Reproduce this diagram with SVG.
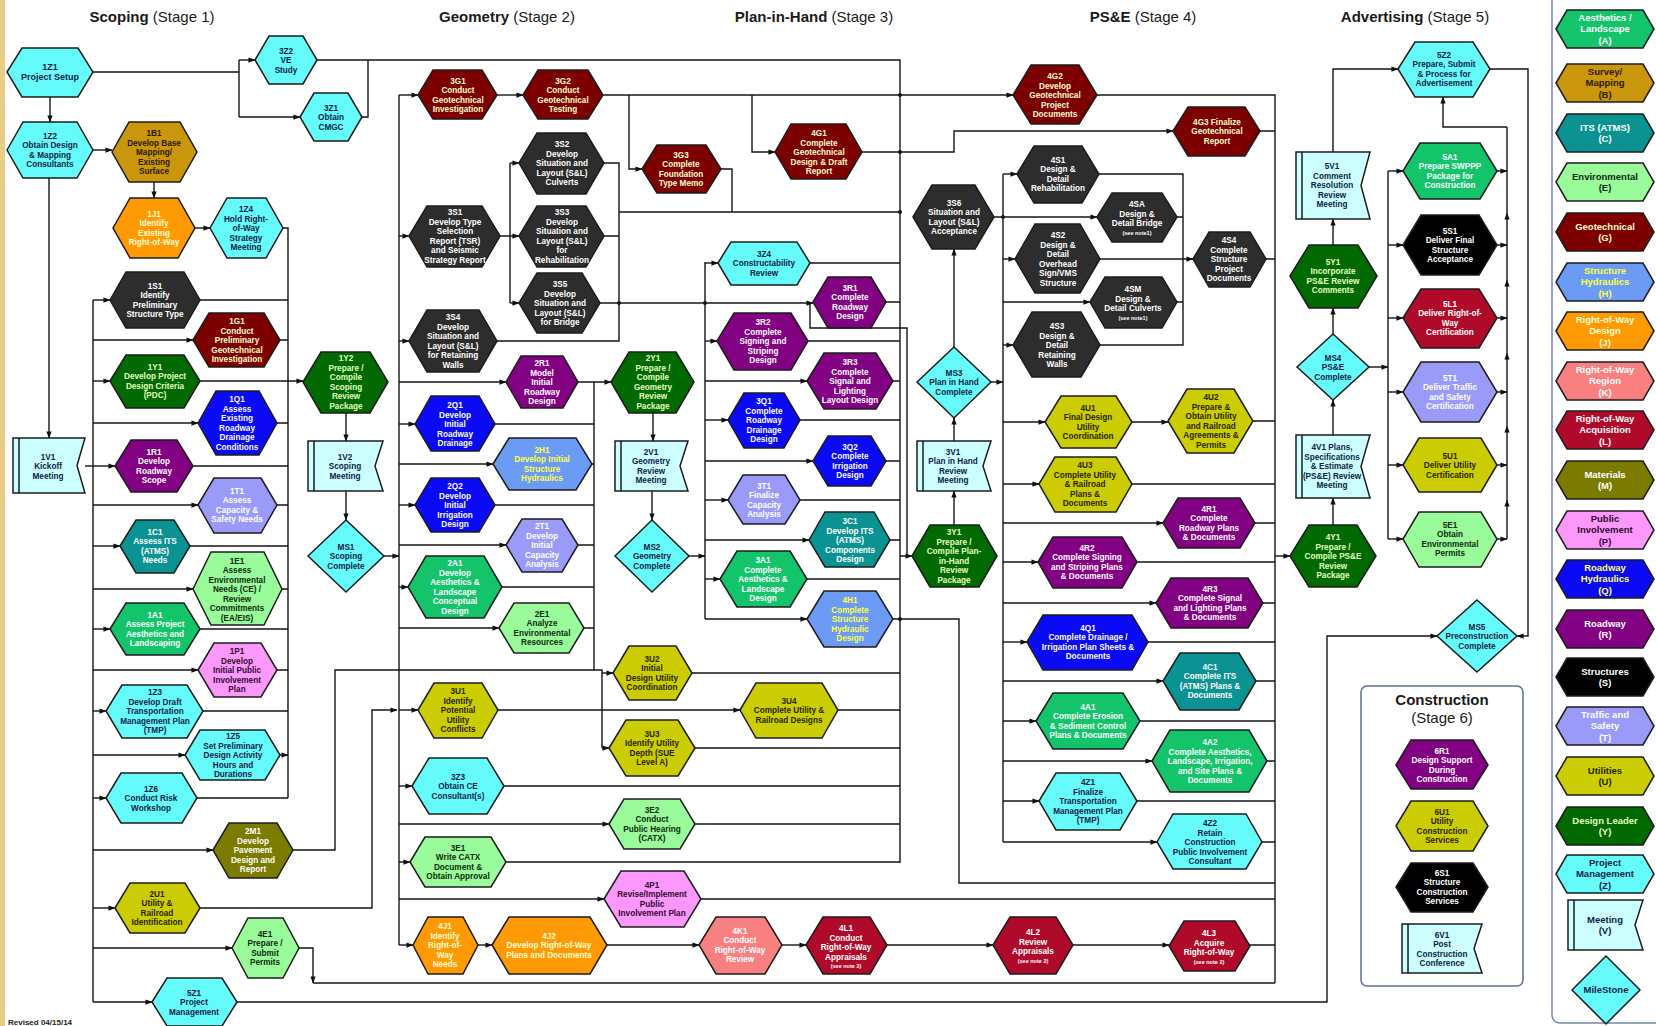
<svg xmlns="http://www.w3.org/2000/svg" width="1656" height="1026" viewBox="0 0 1656 1026">
<defs>
<marker id="ar" viewBox="0 0 8 6" refX="7.5" refY="3" markerWidth="7" markerHeight="5.5" markerUnits="userSpaceOnUse" orient="auto"><path d="M0,0 L8,3 L0,6 Z" fill="#111"/></marker>
<marker id="am" viewBox="0 0 8 6" refX="4" refY="3" markerWidth="7" markerHeight="5.5" markerUnits="userSpaceOnUse" orient="auto"><path d="M0,0 L8,3 L0,6 Z" fill="#111"/></marker>
<style>
text{font-family:"Liberation Sans",Arial,sans-serif;font-weight:bold;font-size:8.2px;text-anchor:middle}
.ttl{font-size:15px;font-weight:normal;fill:#1a1a1a}
.ttl .b{font-weight:bold}
.sm{font-size:5.5px}
.nd polygon,.nd path{stroke:#1c1c1c;stroke-width:1.5}
.c path{fill:none;stroke:#151515;stroke-width:1.4}
.c .a{marker-end:url(#ar)}
.c .m{marker-mid:url(#am)}
.c circle{fill:#151515}
.lg text{font-size:9.5px}
.A polygon{fill:#14c46a}.A text{fill:#fff}
.B polygon{fill:#c9960c}.B text{fill:#2b1800}
.C polygon{fill:#0b9292}.C text{fill:#fff}
.E polygon{fill:#99fb99}.E text{fill:#0c2a0c}
.G polygon{fill:#7d0000}.G text{fill:#ffffc8}
.H polygon{fill:#6b9bf5}.H text{fill:#ffff3c}
.J polygon{fill:#ff9a05}.J text{fill:#ffffd0}
.K polygon{fill:#f88080}.K text{fill:#fff}
.L polygon{fill:#b00a2a}.L text{fill:#fff}
.M polygon{fill:#7b7b00}.M text{fill:#fff}
.P polygon{fill:#fc98fc}.P text{fill:#2e0a2e}
.Q polygon{fill:#0a0af5}.Q text{fill:#fbfbe0}
.R polygon{fill:#820082}.R text{fill:#fff}
.S polygon{fill:#2d2d2d}.S text{fill:#fff}
.X polygon{fill:#000}.X text{fill:#fff}
.T polygon{fill:#9a9af8}.T text{fill:#fff}
.U polygon{fill:#cccc05}.U text{fill:#262600}
.Y polygon{fill:#006a00}.Y text{fill:#e6ffc0}
.Z polygon{fill:#66fbfb}.Z text{fill:#0d1b45}
.V path{fill:#ccffff}.V text{fill:#0d1b45}
.MS polygon{fill:#66fbfb}.MS text{fill:#0d1b45}
</style>
</defs>
<rect width="1656" height="1026" fill="#fff"/>
<rect x="0" y="0" width="5" height="1026" fill="#e8cd84"/>

<g id="titles">
<text class="ttl" x="152" y="22"><tspan class="b">Scoping</tspan> (Stage 1)</text>
<text class="ttl" x="507" y="22"><tspan class="b">Geometry</tspan> (Stage 2)</text>
<text class="ttl" x="814" y="22"><tspan class="b">Plan-in-Hand</tspan> (Stage 3)</text>
<text class="ttl" x="1143" y="22"><tspan class="b">PS&amp;E</tspan> (Stage 4)</text>
<text class="ttl" x="1415" y="22"><tspan class="b">Advertising</tspan> (Stage 5)</text>
<text x="8" y="1025" style="font-size:8px;text-anchor:start;fill:#222">Revised 04/15/14</text>
</g>

<g id="connectors" class="c">
<path d="M93,72 H239 M239,60 V117 M93,300 V1002 M283,228 H288 V798 M200,300 H288 M280,340 H288 M277,423 H288 M193,466 H288 M277,505 H288 M190,546 H288 M282,589 H288 M200,629 H288 M277,670 H288 M203,711 H288 M197,798 H288 M362,117 H368 V60 M317,60 H900 V863"/>
<path class="a" d="M239,60 H255"/><path class="a" d="M239,117 H300"/><path class="a" d="M50,97 V122"/><path class="a" d="M93,150 H112"/><path class="a" d="M154,182 V198"/><path class="a" d="M195,228 H210"/><path class="a" d="M49,178 V438"/><path class="a" d="M85,466 H115"/>
<path class="a" d="M93,300 H110"/><path class="a" d="M93,340 H193"/><path class="a" d="M93,381 H110"/><path class="a" d="M93,423 H198"/><path class="a" d="M93,505 H198"/><path class="a" d="M93,546 H120"/><path class="a" d="M93,589 H193"/><path class="a" d="M93,629 H110"/><path class="a" d="M93,670 H198"/><path class="a" d="M93,711 H106"/><path class="a" d="M93,755 H185"/><path class="a" d="M93,798 H106"/><path class="a" d="M93,850 H213"/><path class="a" d="M93,908 H115"/><path class="a" d="M93,948 H232"/><path class="a" d="M93,1002 H152"/>
<path class="a" d="M280,755 H288"/><path class="a" d="M200,381 H303"/><path class="a" d="M346,413 V441"/><path class="a" d="M346,491 V520"/><path class="a" d="M384,556 H399"/>

<path d="M399,95 V945 M721,169 H732 V212 M619,212 H900 M500,236 H510 M510,163 V303 M604,163 H619 V341 H497 M604,236 H619 M886,302 H900 M594,382 V670 M495,424 H594 M592,464 H594 M495,505 H594 M578,545 H594 M502,587 H594 M584,628 H594 M293,850 H335 V670 H602 V748"/>
<path class="a" d="M399,95 H418"/><path class="a" d="M399,236 H409"/><path class="a" d="M399,341 H409"/><path class="a" d="M399,382 H506"/><path class="a" d="M399,424 H415"/><path class="a" d="M399,464 H493"/><path class="a" d="M399,505 H415"/><path class="a" d="M399,545 H506"/><path class="a" d="M399,587 H408"/><path class="a" d="M399,628 H499"/><path class="a" d="M399,710 H418"/><path class="a" d="M399,786 H412"/><path class="a" d="M399,824 H609"/><path class="a" d="M399,862 H410"/><path class="a" d="M399,899 H604"/><path class="a" d="M399,945 H413"/>
<path class="a" d="M497,95 H523"/><path class="a" d="M603,95 H1013"/><path class="a" d="M629,95 V169 H642"/><path class="a" d="M752,95 V152 H775"/><path class="a" d="M862,152 H954 V131 H1173"/>
<path class="a" d="M510,163 H519"/><path class="a" d="M510,236 H519"/><path class="a" d="M510,303 H519"/><path class="a" d="M600,303 H813"/><path class="a" d="M810,303 V328 H907 V556 H912"/>
<path class="a" d="M578,382 H611"/><path class="a" d="M602,673 H613"/><path class="a" d="M602,748 H609"/><path class="a" d="M200,908 H372 V710 H397"/>
<path class="a" d="M653,413 V441"/><path class="a" d="M652,491 V520"/><path class="a" d="M689,556 H705"/>

<path d="M705,262 V619 M810,263 H900 M808,341 H900 M893,381 H900 M800,420 H900 M886,461 H900 M800,500 H900 M890,540 H900 M807,579 H900 M692,673 H900 M838,710 H900 M695,748 H900 M504,786 H900 M695,824 H900 M506,862 H900 M893,619 H959 V883 H1275 M701,899 H1275 M900,556 H907"/>
<path class="a" d="M705,263 H718"/><path class="a" d="M705,341 H717"/><path class="a" d="M705,381 H807"/><path class="a" d="M705,420 H728"/><path class="a" d="M705,461 H813"/><path class="a" d="M705,500 H728"/><path class="a" d="M705,540 H809"/><path class="a" d="M705,579 H720"/><path class="a" d="M705,619 H807"/><path class="a" d="M498,710 H740"/>
<path class="a" d="M954,525 V491"/><path class="a" d="M954,441 V418"/><path class="a" d="M954,347 V249"/><path class="a" d="M991,382 H1003"/>

<path d="M1003,174 V842 M1099,174 H1183 V345 H1100 M1177,217 H1183 M1177,302 H1183 M1097,95 H1275 V983 M1260,131 H1275 M1266,259 H1275 M1253,421 H1275 M1132,484 H1275 M1255,523 H1275 M1137,562 H1275 M1263,603 H1275 M1148,642 H1275 M1256,681 H1275 M1140,721 H1275 M1267,761 H1275 M1137,801 H1275 M1262,842 H1275 M1250,945 H1275 M313,983 H1275"/>
<path class="a" d="M994,217 H1097"/><path class="a" d="M1003,174 H1017"/><path class="a" d="M1003,259 H1015"/><path class="a" d="M1003,302 H1090"/><path class="a" d="M1003,345 H1013"/><path class="a" d="M1003,422 H1045"/><path class="a" d="M1003,484 H1039"/><path class="a" d="M1003,523 H1163"/><path class="a" d="M1003,562 H1038"/><path class="a" d="M1003,603 H1156"/><path class="a" d="M1003,642 H1027"/><path class="a" d="M1003,681 H1163"/><path class="a" d="M1003,721 H1036"/><path class="a" d="M1003,761 H1152"/><path class="a" d="M1003,801 H1039"/><path class="a" d="M1003,842 H1157"/>
<path class="a" d="M1100,259 H1193"/><path class="a" d="M1132,422 H1168"/>
<path class="a" d="M478,945 H492"/><path class="a" d="M607,945 H699"/><path class="a" d="M782,945 H806"/><path class="a" d="M887,945 H993"/><path class="a" d="M1073,945 H1169"/><path class="a" d="M299,948 H313 V983"/><path class="a" d="M1275,556 H1290"/>

<path d="M1388,171 V539"/>
<path class="m" d="M1507,539 V503 V429 V356 V283 V216 V127"/>
<path class="a" d="M1333,525 V498"/><path class="a" d="M1333,435 V400"/><path class="a" d="M1333,334 V308"/><path class="a" d="M1333,245 V219"/><path class="a" d="M1333,152 V69 H1398"/><path class="a" d="M1369,367 H1388"/>
<path class="a" d="M1388,171 H1403"/><path class="a" d="M1388,245 H1403"/><path class="a" d="M1388,318 H1403"/><path class="a" d="M1388,392 H1403"/><path class="a" d="M1388,465 H1403"/><path class="a" d="M1388,539 H1403"/>
<path class="a" d="M1497,171 H1507"/><path class="a" d="M1497,245 H1507"/><path class="a" d="M1497,318 H1507"/><path class="a" d="M1497,392 H1507"/><path class="a" d="M1497,465 H1507"/><path class="a" d="M1497,539 H1507"/>
<path class="a" d="M1507,127 H1443 V97"/><path class="a" d="M1490,69 H1528 V636 H1517"/><path class="a" d="M237,1002 H1327 V636 H1437"/>
<circle cx="900" cy="95" r="2"/><circle cx="900" cy="152" r="2"/><circle cx="619" cy="303" r="2"/><circle cx="705" cy="303" r="2"/><circle cx="900" cy="212" r="2"/><circle cx="1003" cy="217" r="2"/><circle cx="900" cy="619" r="2"/>
</g>

<g id="n1Z1" class="nd Z"><polygon points="7,72 22,48 78,48 93,72 78,97 22,97"/><text y="70" style="font-size:9px"><tspan x="50">1Z1</tspan><tspan x="50" dy="10">Project Setup</tspan></text></g>
<g id="n3Z2" class="nd Z"><polygon points="255,60 269,36 303,36 317,60 303,84 269,84"/><text y="53.5"><tspan x="286">3Z2</tspan><tspan x="286" dy="9.5">VE</tspan><tspan x="286" dy="9.5">Study</tspan></text></g>
<g id="n3Z1" class="nd Z"><polygon points="300,117 314,93 348,93 362,117 348,141 314,141"/><text y="110.5"><tspan x="331">3Z1</tspan><tspan x="331" dy="9.5">Obtain</tspan><tspan x="331" dy="9.5">CMGC</tspan></text></g>
<g id="n1Z2" class="nd Z"><polygon points="7,150 23,122 77,122 93,150 77,178 23,178"/><text y="138.75"><tspan x="50">1Z2</tspan><tspan x="50" dy="9.5">Obtain Design</tspan><tspan x="50" dy="9.5">&amp; Mapping</tspan><tspan x="50" dy="9.5">Consultants</tspan></text></g>
<g id="n1B1" class="nd B"><polygon points="112,152 129,122 180,122 197,152 180,182 129,182"/><text y="136"><tspan x="154">1B1</tspan><tspan x="154" dy="9.5">Develop Base</tspan><tspan x="154" dy="9.5">Mapping/</tspan><tspan x="154" dy="9.5">Existing</tspan><tspan x="154" dy="9.5">Surface</tspan></text></g>
<g id="n1J1" class="nd J"><polygon points="113,228 130,198 178,198 195,228 178,258 130,258"/><text y="216.75"><tspan x="154">1J1</tspan><tspan x="154" dy="9.5">Identify</tspan><tspan x="154" dy="9.5">Existing</tspan><tspan x="154" dy="9.5">Right-of-Way</tspan></text></g>
<g id="n1Z4" class="nd Z"><polygon points="210,228 227,198 266,198 283,228 266,258 227,258"/><text y="212"><tspan x="246">1Z4</tspan><tspan x="246" dy="9.5">Hold Right-</tspan><tspan x="246" dy="9.5">of-Way</tspan><tspan x="246" dy="9.5">Strategy</tspan><tspan x="246" dy="9.5">Meeting</tspan></text></g>
<g id="n1S1" class="nd S"><polygon points="110,300 126,272 184,272 200,300 184,328 126,328"/><text y="288.75"><tspan x="155">1S1</tspan><tspan x="155" dy="9.5">Identify</tspan><tspan x="155" dy="9.5">Preliminary</tspan><tspan x="155" dy="9.5">Structure Type</tspan></text></g>
<g id="n1G1" class="nd G"><polygon points="193,340 209,313 264,313 280,340 264,367 209,367"/><text y="324"><tspan x="237">1G1</tspan><tspan x="237" dy="9.5">Conduct</tspan><tspan x="237" dy="9.5">Preliminary</tspan><tspan x="237" dy="9.5">Geotechnical</tspan><tspan x="237" dy="9.5">Investigation</tspan></text></g>
<g id="n1Y1" class="nd Y"><polygon points="110,381 126,355 184,355 200,381 184,408 126,408"/><text y="369.75"><tspan x="155">1Y1</tspan><tspan x="155" dy="9.5">Develop Project</tspan><tspan x="155" dy="9.5">Design Criteria</tspan><tspan x="155" dy="9.5">(PDC)</tspan></text></g>
<g id="n1Q1" class="nd Q"><polygon points="198,423 216,391 259,391 277,423 259,455 216,455"/><text y="402.25"><tspan x="237">1Q1</tspan><tspan x="237" dy="9.5">Assess</tspan><tspan x="237" dy="9.5">Existing</tspan><tspan x="237" dy="9.5">Roadway</tspan><tspan x="237" dy="9.5">Drainage</tspan><tspan x="237" dy="9.5">Conditions</tspan></text></g>
<g id="n1V1" class="nd V"><path d="M13,438 H85 L77,465.5 L85,493 H13 Z M19,438 V493"/><text y="459.5"><tspan x="48">1V1</tspan><tspan x="48" dy="9.5">Kickoff</tspan><tspan x="48" dy="9.5">Meeting</tspan></text></g>
<g id="n1R1" class="nd R"><polygon points="115,466 131,440 177,440 193,466 177,492 131,492"/><text y="454.75"><tspan x="154">1R1</tspan><tspan x="154" dy="9.5">Develop</tspan><tspan x="154" dy="9.5">Roadway</tspan><tspan x="154" dy="9.5">Scope</tspan></text></g>
<g id="n1T1" class="nd T"><polygon points="198,505 214,478 261,478 277,505 261,533 214,533"/><text y="493.75"><tspan x="237">1T1</tspan><tspan x="237" dy="9.5">Assess</tspan><tspan x="237" dy="9.5">Capacity &amp;</tspan><tspan x="237" dy="9.5">Safety Needs</tspan></text></g>
<g id="n1C1" class="nd C"><polygon points="120,546 136,520 174,520 190,546 174,573 136,573"/><text y="534.75"><tspan x="155">1C1</tspan><tspan x="155" dy="9.5">Assess ITS</tspan><tspan x="155" dy="9.5">(ATMS)</tspan><tspan x="155" dy="9.5">Needs</tspan></text></g>
<g id="n1E1" class="nd E"><polygon points="193,589 211,552 264,552 282,589 264,625 211,625"/><text y="563.5"><tspan x="237">1E1</tspan><tspan x="237" dy="9.5">Assess</tspan><tspan x="237" dy="9.5">Environmental</tspan><tspan x="237" dy="9.5">Needs (CE) /</tspan><tspan x="237" dy="9.5">Review</tspan><tspan x="237" dy="9.5">Commitments</tspan><tspan x="237" dy="9.5">(EA/EIS)</tspan></text></g>
<g id="n1A1" class="nd A"><polygon points="110,629 126,603 184,603 200,629 184,655 126,655"/><text y="617.75"><tspan x="155">1A1</tspan><tspan x="155" dy="9.5">Assess Project</tspan><tspan x="155" dy="9.5">Aesthetics and</tspan><tspan x="155" dy="9.5">Landscaping</tspan></text></g>
<g id="n1P1" class="nd P"><polygon points="198,670 214,643 261,643 277,670 261,697 214,697"/><text y="654"><tspan x="237">1P1</tspan><tspan x="237" dy="9.5">Develop</tspan><tspan x="237" dy="9.5">Initial Public</tspan><tspan x="237" dy="9.5">Involvement</tspan><tspan x="237" dy="9.5">Plan</tspan></text></g>
<g id="n1Z3" class="nd Z"><polygon points="106,711 122,685 187,685 203,711 187,738 122,738"/><text y="695"><tspan x="155">1Z3</tspan><tspan x="155" dy="9.5">Develop Draft</tspan><tspan x="155" dy="9.5">Transportation</tspan><tspan x="155" dy="9.5">Management Plan</tspan><tspan x="155" dy="9.5">(TMP)</tspan></text></g>
<g id="n1Z5" class="nd Z"><polygon points="185,755 200,730 265,730 280,755 265,780 200,780"/><text y="739"><tspan x="233">1Z5</tspan><tspan x="233" dy="9.5">Set Preliminary</tspan><tspan x="233" dy="9.5">Design Activity</tspan><tspan x="233" dy="9.5">Hours and</tspan><tspan x="233" dy="9.5">Durations</tspan></text></g>
<g id="n1Z6" class="nd Z"><polygon points="106,798 121,773 182,773 197,798 182,823 121,823"/><text y="791.5"><tspan x="151">1Z6</tspan><tspan x="151" dy="9.5">Conduct Risk</tspan><tspan x="151" dy="9.5">Workshop</tspan></text></g>
<g id="n2M1" class="nd M"><polygon points="213,850 229,823 277,823 293,850 277,878 229,878"/><text y="834"><tspan x="253">2M1</tspan><tspan x="253" dy="9.5">Develop</tspan><tspan x="253" dy="9.5">Pavement</tspan><tspan x="253" dy="9.5">Design and</tspan><tspan x="253" dy="9.5">Report</tspan></text></g>
<g id="n2U1" class="nd U"><polygon points="115,908 130,883 185,883 200,908 185,933 130,933"/><text y="896.75"><tspan x="157">2U1</tspan><tspan x="157" dy="9.5">Utility &amp;</tspan><tspan x="157" dy="9.5">Railroad</tspan><tspan x="157" dy="9.5">Identification</tspan></text></g>
<g id="n4E1" class="nd E"><polygon points="232,948 248,918 283,918 299,948 283,978 248,978"/><text y="936.75"><tspan x="265">4E1</tspan><tspan x="265" dy="9.5">Prepare /</tspan><tspan x="265" dy="9.5">Submit</tspan><tspan x="265" dy="9.5">Permits</tspan></text></g>
<g id="n5Z1" class="nd Z"><polygon points="152,1002 167,978 222,978 237,1002 222,1026 167,1026"/><text y="995.5"><tspan x="194">5Z1</tspan><tspan x="194" dy="9.5">Project</tspan><tspan x="194" dy="9.5">Management</tspan></text></g>
<g id="n1Y2" class="nd Y"><polygon points="303,382 321,352 370,352 388,382 370,413 321,413"/><text y="361.25"><tspan x="346">1Y2</tspan><tspan x="346" dy="9.5">Prepare /</tspan><tspan x="346" dy="9.5">Compile</tspan><tspan x="346" dy="9.5">Scoping</tspan><tspan x="346" dy="9.5">Review</tspan><tspan x="346" dy="9.5">Package</tspan></text></g>
<g id="n1V2" class="nd V"><path d="M308,441 H383 L375,466 L383,491 H308 Z M314,441 V491"/><text y="459.5"><tspan x="345">1V2</tspan><tspan x="345" dy="9.5">Scoping</tspan><tspan x="345" dy="9.5">Meeting</tspan></text></g>
<g id="nMS1" class="nd MS"><polygon points="308,556 346,520 384,556 346,592"/><text y="549.5"><tspan x="346">MS1</tspan><tspan x="346" dy="9.5">Scoping</tspan><tspan x="346" dy="9.5">Complete</tspan></text></g>

<g id="n3G1" class="nd G"><polygon points="418,95 433,70 482,70 497,95 482,119 433,119"/><text y="83.75"><tspan x="458">3G1</tspan><tspan x="458" dy="9.5">Conduct</tspan><tspan x="458" dy="9.5">Geotechnical</tspan><tspan x="458" dy="9.5">Investigation</tspan></text></g>
<g id="n3G2" class="nd G"><polygon points="523,95 538,70 588,70 603,95 588,119 538,119"/><text y="83.75"><tspan x="563">3G2</tspan><tspan x="563" dy="9.5">Conduct</tspan><tspan x="563" dy="9.5">Geotechnical</tspan><tspan x="563" dy="9.5">Testing</tspan></text></g>
<g id="n3S2" class="nd S"><polygon points="519,163 537,133 586,133 604,163 586,194 537,194"/><text y="147"><tspan x="562">3S2</tspan><tspan x="562" dy="9.5">Develop</tspan><tspan x="562" dy="9.5">Situation and</tspan><tspan x="562" dy="9.5">Layout (S&amp;L)</tspan><tspan x="562" dy="9.5">Culverts</tspan></text></g>
<g id="n3G3" class="nd G"><polygon points="642,169 657,145 706,145 721,169 706,193 657,193"/><text y="157.75"><tspan x="681">3G3</tspan><tspan x="681" dy="9.5">Complete</tspan><tspan x="681" dy="9.5">Foundation</tspan><tspan x="681" dy="9.5">Type Memo</tspan></text></g>
<g id="n4G1" class="nd G"><polygon points="775,152 791,124 846,124 862,152 846,179 791,179"/><text y="136"><tspan x="819">4G1</tspan><tspan x="819" dy="9.5">Complete</tspan><tspan x="819" dy="9.5">Geotechnical</tspan><tspan x="819" dy="9.5">Design &amp; Draft</tspan><tspan x="819" dy="9.5">Report</tspan></text></g>
<g id="n3S1" class="nd S"><polygon points="409,236 427,206 482,206 500,236 482,267 427,267"/><text y="215.25"><tspan x="455">3S1</tspan><tspan x="455" dy="9.5">Develop Type</tspan><tspan x="455" dy="9.5">Selection</tspan><tspan x="455" dy="9.5">Report (TSR)</tspan><tspan x="455" dy="9.5">and  Seismic</tspan><tspan x="455" dy="9.5">Strategy Report</tspan></text></g>
<g id="n3S3" class="nd S"><polygon points="519,236 537,206 586,206 604,236 586,267 537,267"/><text y="215.25"><tspan x="562">3S3</tspan><tspan x="562" dy="9.5">Develop</tspan><tspan x="562" dy="9.5">Situation and</tspan><tspan x="562" dy="9.5">Layout (S&amp;L)</tspan><tspan x="562" dy="9.5">for</tspan><tspan x="562" dy="9.5">Rehabilitation</tspan></text></g>
<g id="n3S5" class="nd S"><polygon points="519,303 537,273 582,273 600,303 582,333 537,333"/><text y="287"><tspan x="560">3S5</tspan><tspan x="560" dy="9.5">Develop</tspan><tspan x="560" dy="9.5">Situation and</tspan><tspan x="560" dy="9.5">Layout (S&amp;L)</tspan><tspan x="560" dy="9.5">for Bridge</tspan></text></g>
<g id="n3S4" class="nd S"><polygon points="409,341 427,310 479,310 497,341 479,372 427,372"/><text y="320.25"><tspan x="453">3S4</tspan><tspan x="453" dy="9.5">Develop</tspan><tspan x="453" dy="9.5">Situation and</tspan><tspan x="453" dy="9.5">Layout (S&amp;L)</tspan><tspan x="453" dy="9.5">for Retaining</tspan><tspan x="453" dy="9.5">Walls</tspan></text></g>
<g id="n3Z4" class="nd Z"><polygon points="718,263 731,242 797,242 810,263 797,285 731,285"/><text y="256.5"><tspan x="764">3Z4</tspan><tspan x="764" dy="9.5">Constructability</tspan><tspan x="764" dy="9.5">Review</tspan></text></g>
<g id="n3R2" class="nd R"><polygon points="717,341 734,313 791,313 808,341 791,370 734,370"/><text y="325"><tspan x="763">3R2</tspan><tspan x="763" dy="9.5">Complete</tspan><tspan x="763" dy="9.5">Signing and</tspan><tspan x="763" dy="9.5">Striping</tspan><tspan x="763" dy="9.5">Design</tspan></text></g>
<g id="n3R1" class="nd R"><polygon points="813,302 828,277 871,277 886,302 871,328 828,328"/><text y="290.75"><tspan x="850">3R1</tspan><tspan x="850" dy="9.5">Complete</tspan><tspan x="850" dy="9.5">Roadway</tspan><tspan x="850" dy="9.5">Design</tspan></text></g>
<g id="n2R1" class="nd R"><polygon points="506,382 521,356 563,356 578,382 563,408 521,408"/><text y="366"><tspan x="542">2R1</tspan><tspan x="542" dy="9.5">Model</tspan><tspan x="542" dy="9.5">Initial</tspan><tspan x="542" dy="9.5">Roadway</tspan><tspan x="542" dy="9.5">Design</tspan></text></g>
<g id="n2Y1" class="nd Y"><polygon points="611,382 629,352 676,352 694,382 676,413 629,413"/><text y="361.25"><tspan x="653">2Y1</tspan><tspan x="653" dy="9.5">Prepare /</tspan><tspan x="653" dy="9.5">Compile</tspan><tspan x="653" dy="9.5">Geometry</tspan><tspan x="653" dy="9.5">Review</tspan><tspan x="653" dy="9.5">Package</tspan></text></g>
<g id="n2Q1" class="nd Q"><polygon points="415,424 431,396 479,396 495,424 479,451 431,451"/><text y="408"><tspan x="455">2Q1</tspan><tspan x="455" dy="9.5">Develop</tspan><tspan x="455" dy="9.5">Initial</tspan><tspan x="455" dy="9.5">Roadway</tspan><tspan x="455" dy="9.5">Drainage</tspan></text></g>
<g id="n3Q1" class="nd Q"><polygon points="728,420 744,393 784,393 800,420 784,448 744,448"/><text y="404"><tspan x="764">3Q1</tspan><tspan x="764" dy="9.5">Complete</tspan><tspan x="764" dy="9.5">Roadway</tspan><tspan x="764" dy="9.5">Drainage</tspan><tspan x="764" dy="9.5">Design</tspan></text></g>
<g id="n2H1" class="nd H"><polygon points="493,464 509,438 576,438 592,464 576,490 509,490"/><text y="452.75"><tspan x="542">2H1</tspan><tspan x="542" dy="9.5">Develop Initial</tspan><tspan x="542" dy="9.5">Structure</tspan><tspan x="542" dy="9.5">Hydraulics</tspan></text></g>
<g id="n2V1" class="nd V"><path d="M615,441 H688 L680,466 L688,491 H615 Z M621,441 V491"/><text y="454.75"><tspan x="651">2V1</tspan><tspan x="651" dy="9.5">Geometry</tspan><tspan x="651" dy="9.5">Review</tspan><tspan x="651" dy="9.5">Meeting</tspan></text></g>
<g id="n2Q2" class="nd Q"><polygon points="415,505 431,478 479,478 495,505 479,532 431,532"/><text y="489"><tspan x="455">2Q2</tspan><tspan x="455" dy="9.5">Develop</tspan><tspan x="455" dy="9.5">Initial</tspan><tspan x="455" dy="9.5">Irrigation</tspan><tspan x="455" dy="9.5">Design</tspan></text></g>
<g id="n3T1" class="nd T"><polygon points="728,500 743,475 785,475 800,500 785,524 743,524"/><text y="488.75"><tspan x="764">3T1</tspan><tspan x="764" dy="9.5">Finalize</tspan><tspan x="764" dy="9.5">Capacity</tspan><tspan x="764" dy="9.5">Analysis</tspan></text></g>
<g id="n2T1" class="nd T"><polygon points="506,545 522,519 562,519 578,545 562,572 522,572"/><text y="529"><tspan x="542">2T1</tspan><tspan x="542" dy="9.5">Develop</tspan><tspan x="542" dy="9.5">Initial</tspan><tspan x="542" dy="9.5">Capacity</tspan><tspan x="542" dy="9.5">Analysis</tspan></text></g>
<g id="nMS2" class="nd MS"><polygon points="615,556 652,520 689,556 652,592"/><text y="549.5"><tspan x="652">MS2</tspan><tspan x="652" dy="9.5">Geometry</tspan><tspan x="652" dy="9.5">Complete</tspan></text></g>
<g id="n2A1" class="nd A"><polygon points="408,587 426,556 484,556 502,587 484,618 426,618"/><text y="566.25"><tspan x="455">2A1</tspan><tspan x="455" dy="9.5">Develop</tspan><tspan x="455" dy="9.5">Aesthetics &amp;</tspan><tspan x="455" dy="9.5">Landscape</tspan><tspan x="455" dy="9.5">Conceptual</tspan><tspan x="455" dy="9.5">Design</tspan></text></g>
<g id="n3A1" class="nd A"><polygon points="720,579 737,551 790,551 807,579 790,607 737,607"/><text y="563"><tspan x="763">3A1</tspan><tspan x="763" dy="9.5">Complete</tspan><tspan x="763" dy="9.5">Aesthetics &amp;</tspan><tspan x="763" dy="9.5">Landscape</tspan><tspan x="763" dy="9.5">Design</tspan></text></g>
<g id="n2E1" class="nd E"><polygon points="499,628 514,603 569,603 584,628 569,653 514,653"/><text y="616.75"><tspan x="542">2E1</tspan><tspan x="542" dy="9.5">Analyze</tspan><tspan x="542" dy="9.5">Environmental</tspan><tspan x="542" dy="9.5">Resources</tspan></text></g>
<g id="n3U2" class="nd U"><polygon points="613,673 629,646 676,646 692,673 676,700 629,700"/><text y="661.75"><tspan x="652">3U2</tspan><tspan x="652" dy="9.5">Initial</tspan><tspan x="652" dy="9.5">Design Utility</tspan><tspan x="652" dy="9.5">Coordination</tspan></text></g>

<g id="n3R3" class="nd R"><polygon points="807,381 824,353 876,353 893,381 876,409 824,409"/><text y="365"><tspan x="850">3R3</tspan><tspan x="850" dy="9.5">Complete</tspan><tspan x="850" dy="9.5">Signal and</tspan><tspan x="850" dy="9.5">Lighting</tspan><tspan x="850" dy="9.5">Layout Design</tspan></text></g>
<g id="n3Q2" class="nd Q"><polygon points="813,461 828,436 871,436 886,461 871,486 828,486"/><text y="449.75"><tspan x="850">3Q2</tspan><tspan x="850" dy="9.5">Complete</tspan><tspan x="850" dy="9.5">Irrigation</tspan><tspan x="850" dy="9.5">Design</tspan></text></g>
<g id="n3C1" class="nd C"><polygon points="809,540 825,512 874,512 890,540 874,567 825,567"/><text y="524"><tspan x="850">3C1</tspan><tspan x="850" dy="9.5">Develop ITS</tspan><tspan x="850" dy="9.5">(ATMS)</tspan><tspan x="850" dy="9.5">Components</tspan><tspan x="850" dy="9.5">Design</tspan></text></g>
<g id="n4H1" class="nd H"><polygon points="807,619 824,591 876,591 893,619 876,647 824,647"/><text y="603"><tspan x="850">4H1</tspan><tspan x="850" dy="9.5">Complete</tspan><tspan x="850" dy="9.5">Structure</tspan><tspan x="850" dy="9.5">Hydraulic</tspan><tspan x="850" dy="9.5">Design</tspan></text></g>
<g id="n3S6" class="nd S"><polygon points="913,217 932,185 975,185 994,217 975,249 932,249"/><text y="205.75"><tspan x="954">3S6</tspan><tspan x="954" dy="9.5">Situation and</tspan><tspan x="954" dy="9.5">Layout (S&amp;L)</tspan><tspan x="954" dy="9.5">Acceptance</tspan></text></g>
<g id="nMS3" class="nd MS"><polygon points="917,382 954,347 991,382 954,418"/><text y="375.5"><tspan x="954">MS3</tspan><tspan x="954" dy="9.5">Plan in Hand</tspan><tspan x="954" dy="9.5">Complete</tspan></text></g>
<g id="n3V1" class="nd V"><path d="M917,441 H991 L983,466 L991,491 H917 Z M923,441 V491"/><text y="454.75"><tspan x="953">3V1</tspan><tspan x="953" dy="9.5">Plan in Hand</tspan><tspan x="953" dy="9.5">Review</tspan><tspan x="953" dy="9.5">Meeting</tspan></text></g>
<g id="n3Y1" class="nd Y"><polygon points="912,556 930,525 979,525 997,556 979,587 930,587"/><text y="535.25"><tspan x="954">3Y1</tspan><tspan x="954" dy="9.5">Prepare /</tspan><tspan x="954" dy="9.5">Compile Plan-</tspan><tspan x="954" dy="9.5">in-Hand</tspan><tspan x="954" dy="9.5">Review</tspan><tspan x="954" dy="9.5">Package</tspan></text></g>
<g id="n3U1" class="nd U"><polygon points="418,710 434,683 482,683 498,710 482,738 434,738"/><text y="694"><tspan x="458">3U1</tspan><tspan x="458" dy="9.5">Identify</tspan><tspan x="458" dy="9.5">Potential</tspan><tspan x="458" dy="9.5">Utility</tspan><tspan x="458" dy="9.5">Conflicts</tspan></text></g>
<g id="n3U4" class="nd U"><polygon points="740,710 756,683 822,683 838,710 822,738 756,738"/><text y="703.5"><tspan x="789">3U4</tspan><tspan x="789" dy="9.5">Complete Utility &amp;</tspan><tspan x="789" dy="9.5">Railroad Designs</tspan></text></g>
<g id="n3U3" class="nd U"><polygon points="609,748 626,720 678,720 695,748 678,776 626,776"/><text y="736.75"><tspan x="652">3U3</tspan><tspan x="652" dy="9.5">Identify Utility</tspan><tspan x="652" dy="9.5">Depth (SUE</tspan><tspan x="652" dy="9.5">Level A)</tspan></text></g>
<g id="n3Z3" class="nd Z"><polygon points="412,786 429,758 487,758 504,786 487,814 429,814"/><text y="779.5"><tspan x="458">3Z3</tspan><tspan x="458" dy="9.5">Obtain CE</tspan><tspan x="458" dy="9.5">Consultant(s)</tspan></text></g>
<g id="n3E2" class="nd E"><polygon points="609,824 624,799 680,799 695,824 680,849 624,849"/><text y="812.75"><tspan x="652">3E2</tspan><tspan x="652" dy="9.5">Conduct</tspan><tspan x="652" dy="9.5">Public Hearing</tspan><tspan x="652" dy="9.5">(CATX)</tspan></text></g>
<g id="n3E1" class="nd E"><polygon points="410,862 425,837 491,837 506,862 491,887 425,887"/><text y="850.75"><tspan x="458">3E1</tspan><tspan x="458" dy="9.5">Write CATX</tspan><tspan x="458" dy="9.5">Document &amp;</tspan><tspan x="458" dy="9.5">Obtain Approval</tspan></text></g>
<g id="n4P1" class="nd P"><polygon points="604,899 621,871 684,871 701,899 684,927 621,927"/><text y="887.75"><tspan x="652">4P1</tspan><tspan x="652" dy="9.5">Revise/Implement</tspan><tspan x="652" dy="9.5">Public</tspan><tspan x="652" dy="9.5">Involvement Plan</tspan></text></g>
<g id="n4J1" class="nd J"><polygon points="413,945 428,917 463,917 478,945 463,974 428,974"/><text y="929"><tspan x="445">4J1</tspan><tspan x="445" dy="9.5">Identify</tspan><tspan x="445" dy="9.5">Right-of-</tspan><tspan x="445" dy="9.5">Way</tspan><tspan x="445" dy="9.5">Needs</tspan></text></g>
<g id="n4J2" class="nd J"><polygon points="492,945 509,917 590,917 607,945 590,974 509,974"/><text y="938.5"><tspan x="549">4J2</tspan><tspan x="549" dy="9.5">Develop Right-of-Way</tspan><tspan x="549" dy="9.5">Plans and Documents</tspan></text></g>
<g id="n4K1" class="nd K"><polygon points="699,945 716,917 765,917 782,945 765,974 716,974"/><text y="933.75"><tspan x="740">4K1</tspan><tspan x="740" dy="9.5">Conduct</tspan><tspan x="740" dy="9.5">Right-of-Way</tspan><tspan x="740" dy="9.5">Review</tspan></text></g>
<g id="n4L1" class="nd L"><polygon points="806,945 823,917 870,917 887,945 870,974 823,974"/><text y="931"><tspan x="846">4L1</tspan><tspan x="846" dy="9.5">Conduct</tspan><tspan x="846" dy="9.5">Right-of-Way</tspan><tspan x="846" dy="9.5">Appraisals</tspan><tspan x="846" dy="8.5" class="sm">(see note 2)</tspan></text></g>

<g id="n4G2" class="nd G"><polygon points="1013,95 1031,65 1079,65 1097,95 1079,124 1031,124"/><text y="79"><tspan x="1055">4G2</tspan><tspan x="1055" dy="9.5">Develop</tspan><tspan x="1055" dy="9.5">Geotechnical</tspan><tspan x="1055" dy="9.5">Project</tspan><tspan x="1055" dy="9.5">Documents</tspan></text></g>
<g id="n4G3" class="nd G"><polygon points="1173,131 1188,107 1245,107 1260,131 1245,156 1188,156"/><text y="124.5"><tspan x="1217">4G3 Finalize</tspan><tspan x="1217" dy="9.5">Geotechnical</tspan><tspan x="1217" dy="9.5">Report</tspan></text></g>
<g id="n4S1" class="nd S"><polygon points="1017,174 1034,146 1082,146 1099,174 1082,203 1034,203"/><text y="162.75"><tspan x="1058">4S1</tspan><tspan x="1058" dy="9.5">Design &amp;</tspan><tspan x="1058" dy="9.5">Detail</tspan><tspan x="1058" dy="9.5">Rehabilitation</tspan></text></g>
<g id="n4SA" class="nd S"><polygon points="1097,217 1112,193 1162,193 1177,217 1162,242 1112,242"/><text y="207"><tspan x="1137">4SA</tspan><tspan x="1137" dy="9.5">Design &amp;</tspan><tspan x="1137" dy="9.5">Detail Bridge</tspan><tspan x="1137" dy="8.5" class="sm">(see note1)</tspan></text></g>
<g id="n4S2" class="nd S"><polygon points="1015,259 1035,224 1080,224 1100,259 1080,293 1035,293"/><text y="238.25"><tspan x="1058">4S2</tspan><tspan x="1058" dy="9.5">Design &amp;</tspan><tspan x="1058" dy="9.5">Detail</tspan><tspan x="1058" dy="9.5">Overhead</tspan><tspan x="1058" dy="9.5">Sign/VMS</tspan><tspan x="1058" dy="9.5">Structure</tspan></text></g>
<g id="n4S4" class="nd S"><polygon points="1193,259 1209,232 1250,232 1266,259 1250,287 1209,287"/><text y="243"><tspan x="1229">4S4</tspan><tspan x="1229" dy="9.5">Complete</tspan><tspan x="1229" dy="9.5">Structure</tspan><tspan x="1229" dy="9.5">Project</tspan><tspan x="1229" dy="9.5">Documents</tspan></text></g>
<g id="n4SM" class="nd S"><polygon points="1090,302 1105,277 1162,277 1177,302 1162,328 1105,328"/><text y="292"><tspan x="1133">4SM</tspan><tspan x="1133" dy="9.5">Design &amp;</tspan><tspan x="1133" dy="9.5">Detail Culverts</tspan><tspan x="1133" dy="8.5" class="sm">(see note1)</tspan></text></g>
<g id="n4S3" class="nd S"><polygon points="1013,345 1032,312 1081,312 1100,345 1081,377 1032,377"/><text y="329"><tspan x="1057">4S3</tspan><tspan x="1057" dy="9.5">Design &amp;</tspan><tspan x="1057" dy="9.5">Detail</tspan><tspan x="1057" dy="9.5">Retaining</tspan><tspan x="1057" dy="9.5">Walls</tspan></text></g>
<g id="n4U1" class="nd U"><polygon points="1045,422 1061,396 1116,396 1132,422 1116,448 1061,448"/><text y="410.75"><tspan x="1088">4U1</tspan><tspan x="1088" dy="9.5">Final Design</tspan><tspan x="1088" dy="9.5">Utility</tspan><tspan x="1088" dy="9.5">Coordination</tspan></text></g>
<g id="n4U2" class="nd U"><polygon points="1168,421 1187,389 1234,389 1253,421 1234,453 1187,453"/><text y="400.25"><tspan x="1211">4U2</tspan><tspan x="1211" dy="9.5">Prepare &amp;</tspan><tspan x="1211" dy="9.5">Obtain Utility</tspan><tspan x="1211" dy="9.5">and Railroad</tspan><tspan x="1211" dy="9.5">Agreements &amp;</tspan><tspan x="1211" dy="9.5">Permits</tspan></text></g>
<g id="n4U3" class="nd U"><polygon points="1039,484 1055,457 1116,457 1132,484 1116,512 1055,512"/><text y="468"><tspan x="1085">4U3</tspan><tspan x="1085" dy="9.5">Complete Utility</tspan><tspan x="1085" dy="9.5">&amp; Railroad</tspan><tspan x="1085" dy="9.5">Plans &amp;</tspan><tspan x="1085" dy="9.5">Documents</tspan></text></g>
<g id="n4R1" class="nd R"><polygon points="1163,523 1178,498 1240,498 1255,523 1240,548 1178,548"/><text y="511.75"><tspan x="1209">4R1</tspan><tspan x="1209" dy="9.5">Complete</tspan><tspan x="1209" dy="9.5">Roadway Plans</tspan><tspan x="1209" dy="9.5">&amp; Documents</tspan></text></g>
<g id="n4R2" class="nd R"><polygon points="1038,562 1053,537 1122,537 1137,562 1122,588 1053,588"/><text y="550.75"><tspan x="1087">4R2</tspan><tspan x="1087" dy="9.5">Complete Signing</tspan><tspan x="1087" dy="9.5">and Striping Plans</tspan><tspan x="1087" dy="9.5">&amp;  Documents</tspan></text></g>
<g id="n4R3" class="nd R"><polygon points="1156,603 1171,578 1248,578 1263,603 1248,628 1171,628"/><text y="591.75"><tspan x="1210">4R3</tspan><tspan x="1210" dy="9.5">Complete Signal</tspan><tspan x="1210" dy="9.5">and Lighting Plans</tspan><tspan x="1210" dy="9.5">&amp; Documents</tspan></text></g>
<g id="n4Q1" class="nd Q"><polygon points="1027,642 1043,615 1132,615 1148,642 1132,670 1043,670"/><text y="630.75"><tspan x="1088">4Q1</tspan><tspan x="1088" dy="9.5">Complete Drainage /</tspan><tspan x="1088" dy="9.5">Irrigation Plan Sheets &amp;</tspan><tspan x="1088" dy="9.5">Documents</tspan></text></g>
<g id="n4C1" class="nd C"><polygon points="1163,681 1180,653 1239,653 1256,681 1239,710 1180,710"/><text y="669.75"><tspan x="1210">4C1</tspan><tspan x="1210" dy="9.5">Complete ITS</tspan><tspan x="1210" dy="9.5">(ATMS) Plans &amp;</tspan><tspan x="1210" dy="9.5">Documents</tspan></text></g>
<g id="n4A1" class="nd A"><polygon points="1036,721 1053,693 1123,693 1140,721 1123,749 1053,749"/><text y="709.75"><tspan x="1088">4A1</tspan><tspan x="1088" dy="9.5">Complete Erosion</tspan><tspan x="1088" dy="9.5">&amp; Sediment Control</tspan><tspan x="1088" dy="9.5">Plans &amp; Documents</tspan></text></g>
<g id="n4A2" class="nd A"><polygon points="1152,761 1170,730 1249,730 1267,761 1249,792 1170,792"/><text y="745"><tspan x="1210">4A2</tspan><tspan x="1210" dy="9.5">Complete Aesthetics,</tspan><tspan x="1210" dy="9.5">Landscape, Irrigation,</tspan><tspan x="1210" dy="9.5">and Site Plans &amp;</tspan><tspan x="1210" dy="9.5">Documents</tspan></text></g>
<g id="n4Z1" class="nd Z"><polygon points="1039,801 1056,773 1120,773 1137,801 1120,830 1056,830"/><text y="785"><tspan x="1088">4Z1</tspan><tspan x="1088" dy="9.5">Finalize</tspan><tspan x="1088" dy="9.5">Transportation</tspan><tspan x="1088" dy="9.5">Management Plan</tspan><tspan x="1088" dy="9.5">(TMP)</tspan></text></g>
<g id="n4Z2" class="nd Z"><polygon points="1157,842 1173,814 1246,814 1262,842 1246,869 1173,869"/><text y="826"><tspan x="1210">4Z2</tspan><tspan x="1210" dy="9.5">Retain</tspan><tspan x="1210" dy="9.5">Construction</tspan><tspan x="1210" dy="9.5">Public Involvement</tspan><tspan x="1210" dy="9.5">Consultant</tspan></text></g>
<g id="n4L2" class="nd L"><polygon points="993,945 1010,917 1056,917 1073,945 1056,974 1010,974"/><text y="935"><tspan x="1033">4L2</tspan><tspan x="1033" dy="9.5">Review</tspan><tspan x="1033" dy="9.5">Appraisals</tspan><tspan x="1033" dy="8.5" class="sm">(see note 2)</tspan></text></g>
<g id="n4L3" class="nd L"><polygon points="1169,946 1184,921 1235,921 1250,946 1235,971 1184,971"/><text y="936"><tspan x="1209">4L3</tspan><tspan x="1209" dy="9.5">Acquire</tspan><tspan x="1209" dy="9.5">Right-of-Way</tspan><tspan x="1209" dy="8.5" class="sm">(see note 2)</tspan></text></g>

<g id="n5Z2" class="nd Z"><polygon points="1398,69 1415,42 1473,42 1490,69 1473,97 1415,97"/><text y="57.75"><tspan x="1444">5Z2</tspan><tspan x="1444" dy="9.5">Prepare, Submit</tspan><tspan x="1444" dy="9.5">&amp; Process for</tspan><tspan x="1444" dy="9.5">Advertisement</tspan></text></g>
<g id="n5V1" class="nd V"><path d="M1296,152 H1370 L1361,185.5 L1370,219 H1296 Z M1302,152 V219"/><text y="169"><tspan x="1332">5V1</tspan><tspan x="1332" dy="9.5">Comment</tspan><tspan x="1332" dy="9.5">Resolution</tspan><tspan x="1332" dy="9.5">Review</tspan><tspan x="1332" dy="9.5">Meeting</tspan></text></g>
<g id="n5A1" class="nd A"><polygon points="1403,171 1420,143 1480,143 1497,171 1480,199 1420,199"/><text y="159.75"><tspan x="1450">5A1</tspan><tspan x="1450" dy="9.5">Prepare SWPPP</tspan><tspan x="1450" dy="9.5">Package for</tspan><tspan x="1450" dy="9.5">Construction</tspan></text></g>
<g id="n5S1" class="nd X"><polygon points="1403,245 1421,215 1479,215 1497,245 1479,275 1421,275"/><text y="233.75"><tspan x="1450">5S1</tspan><tspan x="1450" dy="9.5">Deliver Final</tspan><tspan x="1450" dy="9.5">Structure</tspan><tspan x="1450" dy="9.5">Acceptance</tspan></text></g>
<g id="n5Y1" class="nd Y"><polygon points="1290,276 1309,245 1358,245 1377,276 1358,308 1309,308"/><text y="264.75"><tspan x="1333">5Y1</tspan><tspan x="1333" dy="9.5">Incorporate</tspan><tspan x="1333" dy="9.5">PS&amp;E Review</tspan><tspan x="1333" dy="9.5">Comments</tspan></text></g>
<g id="n5L1" class="nd L"><polygon points="1403,318 1421,289 1479,289 1497,318 1479,348 1421,348"/><text y="306.75"><tspan x="1450">5L1</tspan><tspan x="1450" dy="9.5">Deliver Right-of-</tspan><tspan x="1450" dy="9.5">Way</tspan><tspan x="1450" dy="9.5">Certification</tspan></text></g>
<g id="nMS4" class="nd MS"><polygon points="1297,367 1333,334 1369,367 1333,400"/><text y="360.5"><tspan x="1333">MS4</tspan><tspan x="1333" dy="9.5">PS&amp;E</tspan><tspan x="1333" dy="9.5">Complete</tspan></text></g>
<g id="n5T1" class="nd T"><polygon points="1403,392 1421,362 1479,362 1497,392 1479,422 1421,422"/><text y="380.75"><tspan x="1450">5T1</tspan><tspan x="1450" dy="9.5">Deliver Traffic</tspan><tspan x="1450" dy="9.5">and Safety</tspan><tspan x="1450" dy="9.5">Certification</tspan></text></g>
<g id="n4V1" class="nd V"><path d="M1296,435 H1370 L1361,466.5 L1370,498 H1296 Z M1302,435 V498"/><text y="450"><tspan x="1332">4V1  Plans,</tspan><tspan x="1332" dy="9.5">Specifications</tspan><tspan x="1332" dy="9.5">&amp; Estimate</tspan><tspan x="1332" dy="9.5">(PS&amp;E) Review</tspan><tspan x="1332" dy="9.5">Meeting</tspan></text></g>
<g id="n5U1" class="nd U"><polygon points="1403,465 1419,438 1481,438 1497,465 1481,492 1419,492"/><text y="458.5"><tspan x="1450">5U1</tspan><tspan x="1450" dy="9.5">Deliver Utility</tspan><tspan x="1450" dy="9.5">Certification</tspan></text></g>
<g id="n4Y1" class="nd Y"><polygon points="1290,556 1309,525 1357,525 1376,556 1357,587 1309,587"/><text y="540"><tspan x="1333">4Y1</tspan><tspan x="1333" dy="9.5">Prepare /</tspan><tspan x="1333" dy="9.5">Compile PS&amp;E</tspan><tspan x="1333" dy="9.5">Review</tspan><tspan x="1333" dy="9.5">Package</tspan></text></g>
<g id="n5E1" class="nd E"><polygon points="1403,539 1419,512 1481,512 1497,539 1481,567 1419,567"/><text y="527.75"><tspan x="1450">5E1</tspan><tspan x="1450" dy="9.5">Obtain</tspan><tspan x="1450" dy="9.5">Environmental</tspan><tspan x="1450" dy="9.5">Permits</tspan></text></g>
<g id="nMS5" class="nd MS"><polygon points="1437,636 1477,600 1517,636 1477,672"/><text y="629.5"><tspan x="1477">MS5</tspan><tspan x="1477" dy="9.5">Preconstruction</tspan><tspan x="1477" dy="9.5">Complete</tspan></text></g>

<g id="construction">
<rect x="1361" y="686" width="162" height="300" rx="6" fill="none" stroke="#5d6e96" stroke-width="1.5"/>
<text x="1442" y="705" style="font-size:15px;fill:#1a1a1a">Construction</text>
<text x="1442" y="723" style="font-size:15px;font-weight:normal;fill:#1a1a1a">(Stage 6)</text>
</g>
<g id="n6R1" class="nd R"><polygon points="1396,765 1411,740 1473,740 1488,765 1473,789 1411,789"/><text y="753.75"><tspan x="1442">6R1</tspan><tspan x="1442" dy="9.5">Design Support</tspan><tspan x="1442" dy="9.5">During</tspan><tspan x="1442" dy="9.5">Construction</tspan></text></g>
<g id="n6U1" class="nd U"><polygon points="1396,826 1411,801 1473,801 1488,826 1473,851 1411,851"/><text y="814.75"><tspan x="1442">6U1</tspan><tspan x="1442" dy="9.5">Utility</tspan><tspan x="1442" dy="9.5">Construction</tspan><tspan x="1442" dy="9.5">Services</tspan></text></g>
<g id="n6S1" class="nd X"><polygon points="1396,887 1411,863 1473,863 1488,887 1473,912 1411,912"/><text y="875.75"><tspan x="1442">6S1</tspan><tspan x="1442" dy="9.5">Structure</tspan><tspan x="1442" dy="9.5">Construction</tspan><tspan x="1442" dy="9.5">Services</tspan></text></g>
<g id="n6V1" class="nd V"><path d="M1402,924 H1482 L1474,948.5 L1482,973 H1402 Z M1408,924 V973"/><text y="937.75"><tspan x="1442">6V1</tspan><tspan x="1442" dy="9.5">Post</tspan><tspan x="1442" dy="9.5">Construction</tspan><tspan x="1442" dy="9.5">Conference</tspan></text></g>

<g id="legend" class="lg">
<rect x="1552" y="-12" width="130" height="1035" rx="8" fill="none" stroke="#7486ad" stroke-width="1.5"/>
<g id="lgA" class="nd A"><polygon points="1556,29 1567,10 1643,10 1654,29 1643,48 1567,48"/><text y="20.8"><tspan x="1605">Aesthetics /</tspan><tspan x="1605" dy="11.5">Landscape</tspan><tspan x="1605" dy="11.5">(A)</tspan></text></g>
<g id="lgB" class="nd B"><polygon points="1556,83 1567,64 1643,64 1654,83 1643,102 1567,102"/><text y="74.8"><tspan x="1605">Survey/</tspan><tspan x="1605" dy="11.5">Mapping</tspan><tspan x="1605" dy="11.5">(B)</tspan></text></g>
<g id="lgC" class="nd C"><polygon points="1556,133 1567,114 1643,114 1654,133 1643,152 1567,152"/><text y="130.5"><tspan x="1605">ITS (ATMS)</tspan><tspan x="1605" dy="11.5">(C)</tspan></text></g>
<g id="lgE" class="nd E"><polygon points="1556,182 1567,163 1643,163 1654,182 1643,201 1567,201"/><text y="179.5"><tspan x="1605">Environmental</tspan><tspan x="1605" dy="11.5">(E)</tspan></text></g>
<g id="lgG" class="nd G"><polygon points="1556,232 1567,213 1643,213 1654,232 1643,251 1567,251"/><text y="229.5"><tspan x="1605">Geotechnical</tspan><tspan x="1605" dy="11.5">(G)</tspan></text></g>
<g id="lgH" class="nd H"><polygon points="1556,282 1567,263 1643,263 1654,282 1643,301 1567,301"/><text y="273.8"><tspan x="1605">Structure</tspan><tspan x="1605" dy="11.5">Hydraulics</tspan><tspan x="1605" dy="11.5">(H)</tspan></text></g>
<g id="lgJ" class="nd J"><polygon points="1556,331 1567,312 1643,312 1654,331 1643,350 1567,350"/><text y="322.8"><tspan x="1605">Right-of-Way</tspan><tspan x="1605" dy="11.5">Design</tspan><tspan x="1605" dy="11.5">(J)</tspan></text></g>
<g id="lgK" class="nd K"><polygon points="1556,381 1567,362 1643,362 1654,381 1643,400 1567,400"/><text y="372.8"><tspan x="1605">Right-of-Way</tspan><tspan x="1605" dy="11.5">Region</tspan><tspan x="1605" dy="11.5">(K)</tspan></text></g>
<g id="lgL" class="nd L"><polygon points="1556,430 1567,411 1643,411 1654,430 1643,449 1567,449"/><text y="421.8"><tspan x="1605">Right-of-Way</tspan><tspan x="1605" dy="11.5">Acquisition</tspan><tspan x="1605" dy="11.5">(L)</tspan></text></g>
<g id="lgM" class="nd M"><polygon points="1556,480 1567,461 1643,461 1654,480 1643,499 1567,499"/><text y="477.5"><tspan x="1605">Materials</tspan><tspan x="1605" dy="11.5">(M)</tspan></text></g>
<g id="lgP" class="nd P"><polygon points="1556,530 1567,511 1643,511 1654,530 1643,549 1567,549"/><text y="521.8"><tspan x="1605">Public</tspan><tspan x="1605" dy="11.5">Involvement</tspan><tspan x="1605" dy="11.5">(P)</tspan></text></g>
<g id="lgQ" class="nd Q"><polygon points="1556,579 1567,560 1643,560 1654,579 1643,598 1567,598"/><text y="570.8" style="fill:#ffff66"><tspan x="1605">Roadway</tspan><tspan x="1605" dy="11.5">Hydraulics</tspan><tspan x="1605" dy="11.5">(Q)</tspan></text></g>
<g id="lgR" class="nd R"><polygon points="1556,629 1567,610 1643,610 1654,629 1643,648 1567,648"/><text y="626.5"><tspan x="1605">Roadway</tspan><tspan x="1605" dy="11.5">(R)</tspan></text></g>
<g id="lgS" class="nd X"><polygon points="1556,677 1567,658 1643,658 1654,677 1643,696 1567,696"/><text y="674.5"><tspan x="1605">Structures</tspan><tspan x="1605" dy="11.5">(S)</tspan></text></g>
<g id="lgT" class="nd T"><polygon points="1556,726 1567,707 1643,707 1654,726 1643,745 1567,745"/><text y="717.8"><tspan x="1605">Traffic and</tspan><tspan x="1605" dy="11.5">Safety</tspan><tspan x="1605" dy="11.5">(T)</tspan></text></g>
<g id="lgU" class="nd U"><polygon points="1556,776 1567,757 1643,757 1654,776 1643,795 1567,795"/><text y="773.5"><tspan x="1605">Utilities</tspan><tspan x="1605" dy="11.5">(U)</tspan></text></g>
<g id="lgY" class="nd Y"><polygon points="1556,826 1567,807 1643,807 1654,826 1643,845 1567,845"/><text y="823.5"><tspan x="1605">Design Leader</tspan><tspan x="1605" dy="11.5">(Y)</tspan></text></g>
<g id="lgZ" class="nd Z"><polygon points="1556,874 1567,855 1643,855 1654,874 1643,893 1567,893"/><text y="865.8"><tspan x="1605">Project</tspan><tspan x="1605" dy="11.5">Management</tspan><tspan x="1605" dy="11.5">(Z)</tspan></text></g>
<g id="lgV" class="nd V"><path d="M1568,900 H1643 L1635,925 L1643,950 H1568 Z M1574,900 V950"/><text y="922.5"><tspan x="1605">Meeting</tspan><tspan x="1605" dy="11.5">(V)</tspan></text></g>
<g id="lgMS" class="nd MS"><polygon points="1572,990 1606,956 1640,990 1606,1024"/><text x="1606" y="993.3">MileStone</text></g>
</g>
</svg>
